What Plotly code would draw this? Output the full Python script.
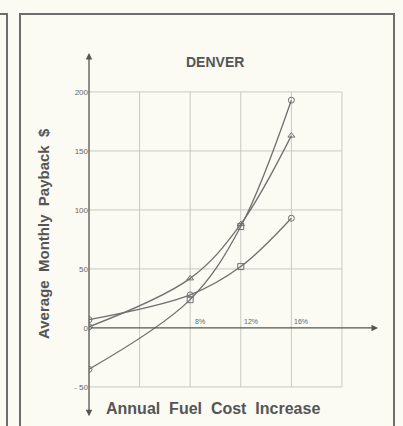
import plotly.graph_objects as go

# Data (Annual fuel cost increase %, average monthly payback $)
x_pct = [0, 8, 12, 16]
series_a = [-35, 24, 86, 193]
series_b = [7, 28, 52, 93]
series_c = [1, 42, 88, 163]
symbols_a = ["circle-open", "square-open", "square-open", "circle-open"]
symbols_b = ["circle-open", "circle-open", "square-open", "circle-open"]
symbols_c = ["circle-open", "triangle-up-open", "triangle-up-open", "triangle-up-open"]
y_ticks = [-50, 0, 50, 100, 150, 200]
x_grid = [4, 8, 12, 16, 20]
x_tick_labels = {8: "8%", 12: "12%", 16: "16%"}

W, H = 403, 426
L, R, T, B = 89, 25, 53, 6
pw, ph = W - L - R, H - T - B

X_MIN, X_MAX = 0, 22.85
Y_MIN, Y_MAX = -78, 233

line_col = "#707070"
bg = "#fbfaf3"

def px_x(p):
    return (p - L) / pw

def px_y(p):
    return (H - B - p) / ph

fig = go.Figure()
for ys, syms in [(series_a, symbols_a), (series_b, symbols_b), (series_c, symbols_c)]:
    fig.add_trace(go.Scatter(
        x=x_pct, y=ys, mode="lines+markers",
        line=dict(color=line_col, width=1.3, shape="spline", smoothing=1.0),
        marker=dict(symbol=syms, size=6, color=line_col, line=dict(width=1, color=line_col)),
        showlegend=False, hoverinfo="skip",
    ))

shapes = []
grid_col = "#c9c9c4"
for gx in x_grid:
    shapes.append(dict(type="line", xref="x", yref="y", x0=gx, x1=gx, y0=-50, y1=200,
                       line=dict(color=grid_col, width=1), layer="below"))
for gy in y_ticks:
    if gy == 0:
        continue
    shapes.append(dict(type="line", xref="x", yref="y", x0=0, x1=20, y0=gy, y1=gy,
                       line=dict(color=grid_col, width=1), layer="below"))
# panel frames
frame_col = "#6d6d6d"
shapes.append(dict(type="rect", xref="paper", yref="paper",
                   x0=px_x(20), x1=px_x(394), y0=px_y(440), y1=px_y(14),
                   line=dict(color=frame_col, width=2), layer="below"))
shapes.append(dict(type="rect", xref="paper", yref="paper",
                   x0=px_x(-20), x1=px_x(7), y0=px_y(440), y1=px_y(14),
                   line=dict(color=frame_col, width=2), layer="below"))

annotations = []
# axes with arrows
annotations.append(dict(x=0, y=Y_MAX, ax=0, ay=Y_MIN + 2, xref="x", yref="y", axref="x", ayref="y",
                        showarrow=True, arrowhead=2, arrowside="end+start", arrowsize=1,
                        arrowwidth=1.3, arrowcolor="#555", text=""))
annotations.append(dict(x=X_MAX, y=0, ax=0, ay=0, xref="x", yref="y", axref="x", ayref="y",
                        showarrow=True, arrowhead=2, arrowsize=1, arrowwidth=1.3,
                        arrowcolor="#555", text=""))
for v, t in x_tick_labels.items():
    annotations.append(dict(x=v, y=0, xref="x", yref="y", text=t, showarrow=False,
                            xanchor="center", yanchor="bottom", xshift=10, yshift=1,
                            font=dict(size=7, color="#666", family="Liberation Sans")))
annotations.append(dict(x=px_x(215), y=px_y(62), xref="paper", yref="paper", text="<b>DENVER</b>",
                        showarrow=False, xanchor="center", yanchor="middle",
                        font=dict(size=14, color="#555", family="Liberation Sans")))
annotations.append(dict(x=px_x(44), y=px_y(234), xref="paper", yref="paper",
                        text="<b>Average  Monthly  Payback  $</b>", textangle=-90,
                        showarrow=False, xanchor="center", yanchor="middle",
                        font=dict(size=15, color="#555", family="Liberation Sans")))
annotations.append(dict(x=px_x(213), y=px_y(408), xref="paper", yref="paper",
                        text="<b>Annual  Fuel  Cost  Increase</b>",
                        showarrow=False, xanchor="center", yanchor="middle",
                        font=dict(size=16, color="#555", family="Liberation Sans")))

fig.update_layout(
    width=W, height=H,
    margin=dict(l=L, r=R, t=T, b=B, pad=0),
    paper_bgcolor=bg, plot_bgcolor=bg,
    shapes=shapes, annotations=annotations,
    xaxis=dict(range=[X_MIN, X_MAX], showgrid=False, zeroline=False, showticklabels=False,
               showline=False, ticks=""),
    yaxis=dict(range=[Y_MIN, Y_MAX], showgrid=False, zeroline=False, tickvals=y_ticks,
               ticktext=[str(v) if v >= 0 else "- 50" for v in y_ticks], ticks="",
               tickfont=dict(size=8, color="#666", family="Liberation Sans"),
               showline=False),
)

fig.write_html("out.html", config={"displayModeBar": False},
               post_script="document.body.style.margin='0px';document.body.style.background='%s';" % bg)
